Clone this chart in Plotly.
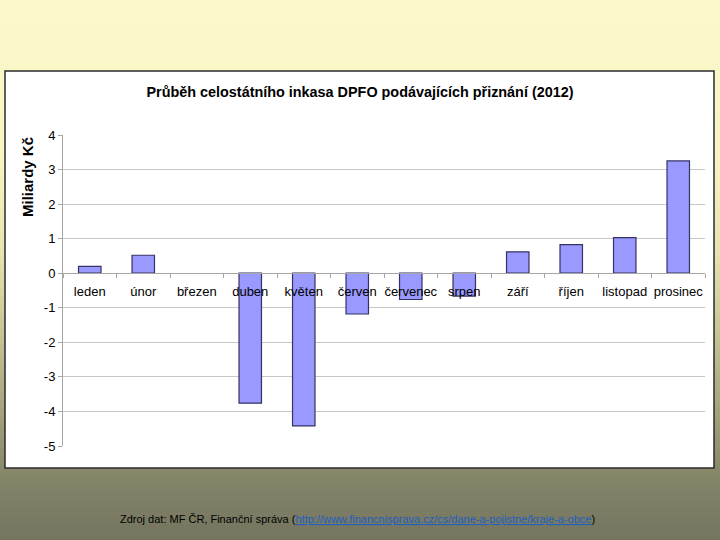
"""Graf průběhu celostátního inkasa DPFO (2012)."""

import plotly.graph_objects as go

MESICE = [
    "leden", "únor", "březen", "duben", "květen", "červen",
    "červenec", "srpen", "září", "říjen", "listopad", "prosinec",
]
INKASO = [0.20, 0.52, 0.0, -3.76, -4.42, -1.18, -0.76, -0.66, 0.62, 0.83, 1.03, 3.25]
Y_TICKY = [-5, -4, -3, -2, -1, 0, 1, 2, 3, 4]

TITULEK = "Průběh celostátního inkasa DPFO podávajících přiznání (2012)"
OSA_Y = "Miliardy Kč"
ZDROJ = "Zdroj dat: MF ČR, Finanční správa ("
ODKAZ = "http://www.financnisprava.cz/cs/dane-a-pojistne/kraje-a-obce"

W, H = 720, 540
L, R, T, B = 63, 15, 135, 94
PW, PH = W - L - R, H - T - B

# barevný přechod pozadí snímku (pixel y, rgb)
PRECHOD = [
    (0, (251, 248, 202)),
    (150, (249, 245, 196)),
    (250, (232, 228, 178)),
    (330, (200, 198, 150)),
    (420, (160, 159, 122)),
    (480, (132, 132, 104)),
    (540, (116, 117, 96)),
]


def px_x(px):
    return (px - L) / PW


def px_y(py):
    return (H - B - py) / PH


def barva_prechodu(py):
    for (y0, c0), (y1, c1) in zip(PRECHOD, PRECHOD[1:]):
        if y0 <= py <= y1:
            t = (py - y0) / (y1 - y0)
            c = [round(a + (b - a) * t) for a, b in zip(c0, c1)]
            return f"rgb({c[0]},{c[1]},{c[2]})"
    return "rgb(116,117,96)"


def pozadi():
    shapes = []
    krok = 4
    for py in range(0, H, krok):
        shapes.append(dict(
            type="rect", xref="paper", yref="paper", layer="below",
            x0=px_x(-5), x1=px_x(W + 5), y0=px_y(py + krok + 0.5), y1=px_y(py),
            fillcolor=barva_prechodu(py + krok / 2), line_width=0,
        ))
    shapes.append(dict(
        type="rect", xref="paper", yref="paper", layer="below",
        x0=px_x(5), x1=px_x(714), y0=px_y(468), y1=px_y(71),
        fillcolor="white", line=dict(color="#2b2b2b", width=1.5),
    ))
    return shapes


def graf():
    fig = go.Figure()
    fig.add_trace(go.Bar(
        x=MESICE, y=INKASO,
        marker=dict(
            color="#9999FF",
            line=dict(color="#333366", width=[1.2 if v else 0 for v in INKASO]),
        ),
        width=0.42,
    ))
    font = dict(family="Arial, Liberation Sans, sans-serif", color="black")
    fig.update_layout(
        width=W, height=H,
        margin=dict(l=L, r=R, t=T, b=B),
        paper_bgcolor="rgb(116,117,96)",
        plot_bgcolor="white",
        showlegend=False,
        font=font,
        title=dict(
            text=f"<b>{TITULEK}</b>", x=0.5, xref="container", xanchor="center",
            y=1 - 92 / H, yanchor="middle", font=dict(size=14.4, **font),
        ),
        shapes=pozadi(),
        xaxis=dict(
            anchor="free", position=5 / 9,
            showline=True, linecolor="#a6a6a6", linewidth=1,
            ticks="outside", tickson="boundaries", ticklen=4, tickcolor="#a6a6a6",
            tickfont=dict(size=13, **font), showgrid=False, tickangle=0,
            ticklabelstandoff=6,
        ),
        yaxis=dict(
            range=[-5, 4], tickvals=Y_TICKY, ticktext=[str(v) for v in Y_TICKY],
            showgrid=True, gridcolor="#c8c8c8",
            zeroline=False, showline=True, linecolor="#a6a6a6", linewidth=1,
            ticks="outside", ticklen=4, tickcolor="#a6a6a6",
            tickfont=dict(size=13, **font),
        ),
        annotations=[
            dict(
                text=f"<b>{OSA_Y}</b>", textangle=-90, xref="paper", yref="paper",
                x=px_x(27), y=px_y(177), showarrow=False,
                xanchor="center", yanchor="middle", font=dict(size=15, **font),
            ),
            dict(
                text=(f"{ZDROJ}<a href='{ODKAZ}'><span style='color:#2060c0;"
                      f"text-decoration:underline'>{ODKAZ}</span></a>)"),
                xref="paper", yref="paper", x=px_x(118), y=px_y(519),
                showarrow=False, xanchor="left", yanchor="middle",
                font=dict(family="Liberation Sans", size=11, color="black"),
            ),
        ],
    )
    return fig


fig = graf()
fig.write_html(
    "out.html",
    config={"displayModeBar": False},
    post_script="document.body.style.margin = '0';",
)
